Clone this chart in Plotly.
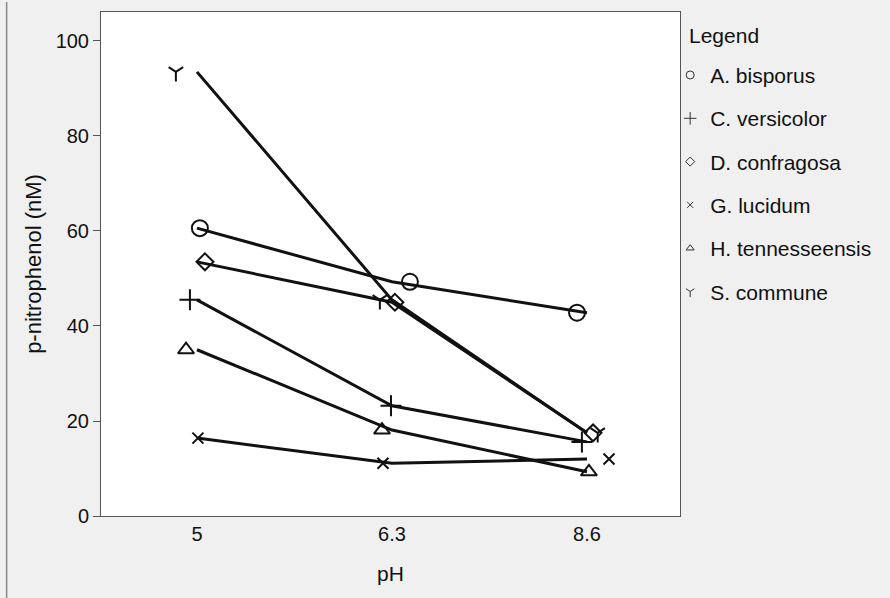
import plotly.graph_objects as go

ph_labels = ["5", "6.3", "8.6"]
species = ["A. bisporus", "C. versicolor", "D. confragosa", "G. lucidum",
           "H. tennesseensis", "S. commune"]
symbols = ["circle-open", "cross-thin-open", "diamond-open", "x-thin-open",
           "triangle-up-open", "y-down-open"]

a_bisporus = [60.6, 49.3, 42.8]
c_versicolor = [45.5, 23.2, 15.6]
d_confragosa = [53.5, 45.0, 17.5]
g_lucidum = [16.4, 11.1, 12.0]
h_tennesseensis = [35.0, 18.1, 9.3]
s_commune = [93.5, 45.5, 17.5]
values = [a_bisporus, c_versicolor, d_confragosa, g_lucidum, h_tennesseensis, s_commune]

# horizontal jitter of each marker (in category units)
jit_a = [0.015, 0.092, -0.051]
jit_c = [-0.036, -0.005, -0.026]
jit_d = [0.041, 0.015, 0.031]
jit_g = [0.005, -0.046, 0.113]
jit_h = [-0.056, -0.051, 0.010]
jit_s = [-0.108, -0.062, 0.055]
jitters = [jit_a, jit_c, jit_d, jit_g, jit_h, jit_s]

marker_sizes = [16, 15, 13, 11, 14, 12]
legend_sizes = [8, 9, 7, 6, 7, 7]

xs = list(range(len(ph_labels)))
ink = "#111111"

fig = go.Figure()
for i, name in enumerate(species):
    fig.add_trace(go.Scatter(
        x=xs, y=values[i], mode="lines", line=dict(color=ink, width=3),
        showlegend=False, hoverinfo="skip"))
for i, name in enumerate(species):
    fig.add_trace(go.Scatter(
        x=[x + j for x, j in zip(xs, jitters[i])], y=values[i], mode="markers",
        marker=dict(symbol=symbols[i], size=marker_sizes[i], color=ink,
                    line=dict(color=ink, width=2)),
        showlegend=False, name=name))
for i, name in enumerate(species):
    fig.add_trace(go.Scatter(
        x=[None], y=[None], mode="markers", name=name, legendgroup=name,
        marker=dict(symbol=symbols[i], size=legend_sizes[i], color="#333333",
                    line=dict(color="#333333", width=1))))

font = "Liberation Sans, Arial, sans-serif"
fig.update_layout(
    width=890, height=598,
    margin=dict(l=101, r=210, t=12, b=82),
    paper_bgcolor="#f0f0f0", plot_bgcolor="white",
    font=dict(family=font, size=21, color="#111111"),
    xaxis=dict(range=[-0.492, 2.477], tickvals=xs, ticktext=ph_labels,
               showgrid=False, zeroline=False, showline=True, linecolor="#555555",
               linewidth=1, mirror=True, ticks="", ticklen=0,
               tickfont=dict(size=20),
               title=dict(text="pH", font=dict(size=21), standoff=22)),
    yaxis=dict(range=[0, 106.1], tickvals=[0, 20, 40, 60, 80, 100],
               showgrid=False, zeroline=False, showline=True, linecolor="#555555",
               linewidth=1, mirror=True, ticks="outside", ticklen=7,
               tickcolor="#555555", tickfont=dict(size=20),
               title=dict(text="p-nitrophenol (nM)", font=dict(size=22), standoff=7)),
    legend=dict(x=0.983, y=0.915, xanchor="left", yanchor="top",
                bgcolor="rgba(0,0,0,0)", font=dict(size=21),
                tracegroupgap=13, traceorder="grouped", itemwidth=30),
    annotations=[dict(text="Legend", xref="paper", yref="paper", x=1.012, y=0.954,
                      xanchor="left", yanchor="middle", showarrow=False,
                      font=dict(size=21))],
)
fig.add_shape(type="line", xref="paper", yref="paper", x0=-0.163, x1=-0.163,
              y0=-0.2, y1=1.02, line=dict(color="#888888", width=1.5))
fig.write_html("out.html")
